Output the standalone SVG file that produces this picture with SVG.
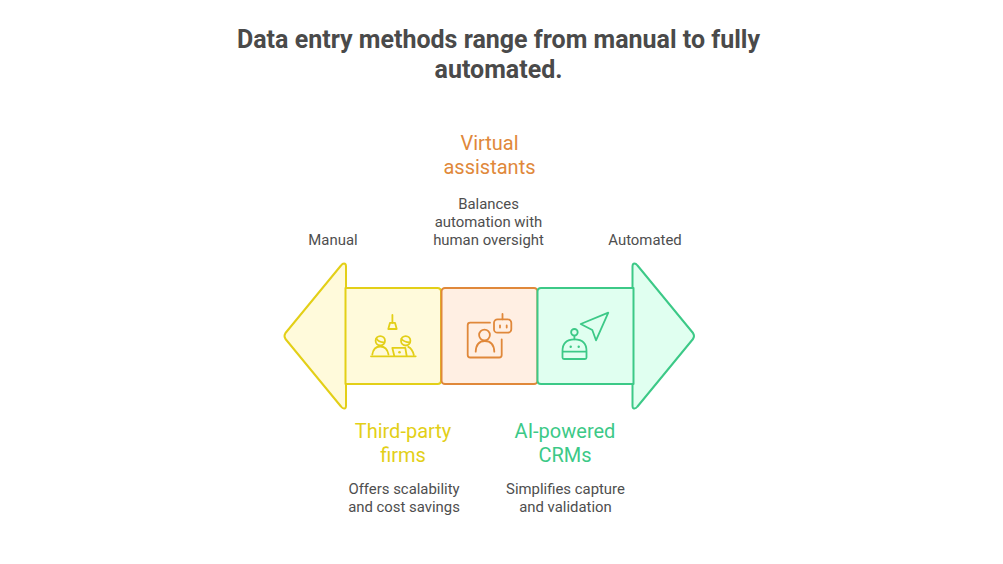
<svg xmlns="http://www.w3.org/2000/svg" width="1003" height="564" viewBox="0 0 1003 564">
<style>
text{font-family:Roboto,"Liberation Sans",sans-serif;text-anchor:middle}
.t{font-size:25px;font-weight:700;fill:#4a4a4a}
.h{font-size:20px}
.d{font-size:14.900px;fill:#4e4e4e}
.s{stroke-width:2;stroke-linejoin:round;stroke-linecap:round}
.i{fill:none;stroke-width:1.800;stroke-linejoin:round;stroke-linecap:round}
.y{fill:#fffadb;stroke:#e3cf17}.o{fill:#ffefe3;stroke:#e0883a}.g{fill:#e0fff0;stroke:#3cc987}
.iy{stroke:#e3cf17}.io{stroke:#e0883a}.ig{stroke:#3cc987}
.fy{fill:#e3cf17}.fg{fill:#3cc987}
</style>
<rect width="1003" height="564" fill="#fff"/>
<g id="title"><text class="t" x="498.500" y="48">Data entry methods range from manual to fully</text><text class="t" x="498.500" y="78">automated.</text></g>
<g id="node-thirdparty">
<path class="s y" d="M346 266.500V405.500Q346 409 344 408.500Q342.500 408.500 341 406.500L285.500 339Q283.500 336 285.500 333L341 265.500Q342.500 263.500 344 263.500Q346 263.500 346 266.500Z"/>
<path class="s y" d="M345.500 288H437.500Q441 288 441 291.500V380.500Q441 384 437.500 384H345.500Z"/>
<g class="i iy"><path d="M392.400 315V322.800"/><path d="M388.300 329L390 322.800H395L396.700 329Z"/><circle cx="380.300" cy="340.800" r="4.700"/><path d="M376.500 338.500Q378 342 384 342.500"/><path d="M372.300 354.500Q373.500 346.500 380.300 346.500Q387 346.500 388.500 354.500"/><circle cx="405.700" cy="340.800" r="4.700"/><path d="M401.500 339Q404 342 409.800 342.500"/><path d="M408.300 346.800Q412.300 348.500 413.800 355"/><path d="M394.300 356L392.300 347.800H405.300L406.700 356"/><path d="M371 356.300H415.700"/></g>
<circle class="fy" cx="399.500" cy="352.300" r="1.300"/>
<text class="h" x="403" y="438" fill="#e3cf17">Third-party</text><text class="h" x="403" y="462" fill="#e3cf17">firms</text>
<text class="d" x="404" y="494">Offers scalability</text><text class="d" x="404" y="512">and cost savings</text>
</g>
<g id="node-virtual">
<rect class="s o" x="441.500" y="288" width="96" height="96" rx="3.500"/>
<g class="i io"><path d="M490 322.700H470.200Q467.700 322.700 467.700 325.200V355Q467.700 357.500 470.200 357.500H499.200Q501.700 357.500 501.700 355V339.300"/><circle cx="484.500" cy="335" r="5.400"/><path d="M475.700 351.700Q476.200 341 484.800 341Q493.800 341 494.300 351.700"/><rect x="494" y="319.300" width="17.300" height="13.400" rx="3.500"/><path d="M502.500 319.300V314"/><path d="M500 325.500V327.500M506.700 325.500V327.500"/></g>
<text class="h" x="489.500" y="150" fill="#e0883a">Virtual</text><text class="h" x="489.500" y="174" fill="#e0883a">assistants</text>
<text class="d" x="488.500" y="209">Balances</text><text class="d" x="488.500" y="227">automation with</text><text class="d" x="488.500" y="245">human oversight</text>
</g>
<g id="node-crm">
<path class="s g" d="M632.500 266.500V405.500Q632.500 409 634.500 408.500Q636 408.500 637.500 406.500L693 339Q695 336 693 333L637.500 265.500Q636 263.500 634.500 263.500Q632.500 263.500 632.500 266.500Z"/>
<path class="s g" d="M633.500 288H541Q537.500 288 537.500 291.500V380.500Q537.500 384 541 384H633.500Z"/>
<g class="i ig"><path d="M608.300 312.700L580.700 324L592.300 330L596 340.300Z"/><circle cx="574.400" cy="332.300" r="3.300"/><path d="M574.400 335.600V339.300"/><path d="M562.500 351.700V351Q562.500 339.300 574.500 339.300Q586.500 339.300 586.500 351V357.500Q586.500 359 585 359H564Q562.500 359 562.500 357.500ZM562.500 351.700H586.500"/></g>
<circle class="fg" cx="570.700" cy="346.700" r="1.200"/><circle class="fg" cx="578.700" cy="346.700" r="1.200"/>
<text class="h" x="565" y="438" fill="#3cc987">AI-powered</text><text class="h" x="565" y="462" fill="#3cc987">CRMs</text>
<text class="d" x="565.500" y="494">Simplifies capture</text><text class="d" x="565.500" y="512">and validation</text>
</g>
<g id="node-manual"><text class="d" x="333" y="245">Manual</text></g>
<g id="node-automated"><text class="d" x="645" y="245">Automated</text></g>
<g id="connectors"></g>
</svg>
